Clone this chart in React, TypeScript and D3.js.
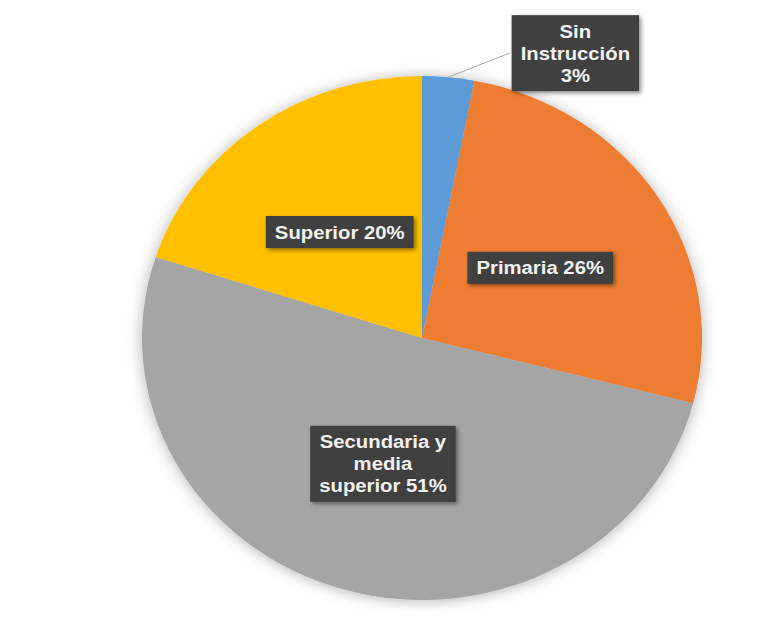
import React from "react";
import * as d3 from "d3";

const categories = ["Sin Instrucción", "Primaria", "Secundaria y media superior", "Superior"];
const values = [3, 26, 51, 20];
const colors = ["#5B9BD5", "#ED7D31", "#A5A5A5", "#FFC000"];
const labelLines = [
  ["Sin", "Instrucción", "3%"],
  ["Primaria 26%"],
  ["Secundaria y", "media", "superior 51%"],
  ["Superior 20%"],
];

const W = 779;
const H = 623;
const CX = 422;
const CY = 338;
const R = 262;
const SX = 280 / 262;
const FONT = "bold 19px 'Liberation Sans', Arial, sans-serif";
const LINE_H = 22;

function measure(text: string): number {
  const c = document.createElement("canvas").getContext("2d");
  if (!c) return text.length * 10;
  c.font = FONT;
  return c.measureText(text).width;
}

export default function App() {
  const pie = d3.pie<number>().sort(null).value((d) => d);
  const arcs = pie(values);
  const arc = d3.arc<d3.PieArcDatum<number>>().innerRadius(0).outerRadius(R);

  const labels = arcs.map((a, i) => {
    const lines = labelLines[i];
    let x: number, y: number;
    let leader: [number, number, number, number] | null = null;
    const [cx0, cy0] = arc.centroid(a);
    if (i === 0) {
      const mid = (a.startAngle + a.endAngle) / 2;
      const ex = Math.sin(mid) * R * SX;
      const ey = -Math.cos(mid) * R;
      x = ex + 127;
      y = ey - 24;
      leader = [ex, ey, x - 66, y];
    } else {
      x = cx0 * SX;
      y = cy0;
    }
    const tw = Math.max(...lines.map(measure)) * SX;
    const bw = tw + 18;
    const bh = lines.length * LINE_H + 10;
    return { x, y, lines, bw, bh, leader };
  });

  return (
    <svg width={W} height={H} style={{ position: "absolute", left: 0, top: 0, background: "#fff" }}>
      <defs>
        <filter id="pieShadow" x="-20%" y="-20%" width="140%" height="140%">
          <feDropShadow dx="0" dy="1" stdDeviation="7" floodColor="#000" floodOpacity="0.3" />
        </filter>
        <filter id="boxShadow" x="-20%" y="-30%" width="150%" height="170%">
          <feDropShadow dx="2" dy="2" stdDeviation="2" floodColor="#000" floodOpacity="0.45" />
        </filter>
      </defs>
      <g transform={`translate(${CX},${CY})`}>
        <g transform={`scale(${SX},1)`} filter="url(#pieShadow)">
          {arcs.map((a, i) => (
            <path key={categories[i]} d={arc(a) || ""} fill={colors[i]} />
          ))}
        </g>
        {labels.map((l, i) =>
          l.leader ? (
            <line
              key={"ld" + i}
              x1={l.leader[0]}
              y1={l.leader[1]}
              x2={l.leader[2]}
              y2={l.leader[3]}
              stroke="#a6a6a6"
              strokeWidth={1}
            />
          ) : null
        )}
        {labels.map((l, i) => (
          <g key={"lb" + i} transform={`translate(${l.x},${l.y})`}>
            <rect
              x={-l.bw / 2}
              y={-l.bh / 2}
              width={l.bw}
              height={l.bh}
              fill="#3f3f3f"
              filter="url(#boxShadow)"
            />
            <g transform={`scale(${SX},1)`}>
              <text
                textAnchor="middle"
                fill="#f2f2f2"
                style={{ font: FONT }}
              >
                {l.lines.map((t, j) => (
                  <tspan
                    key={j}
                    x={0}
                    y={(j - (l.lines.length - 1) / 2) * LINE_H}
                    dy="0.35em"
                  >
                    {t}
                  </tspan>
                ))}
              </text>
            </g>
          </g>
        ))}
      </g>
    </svg>
  );
}
